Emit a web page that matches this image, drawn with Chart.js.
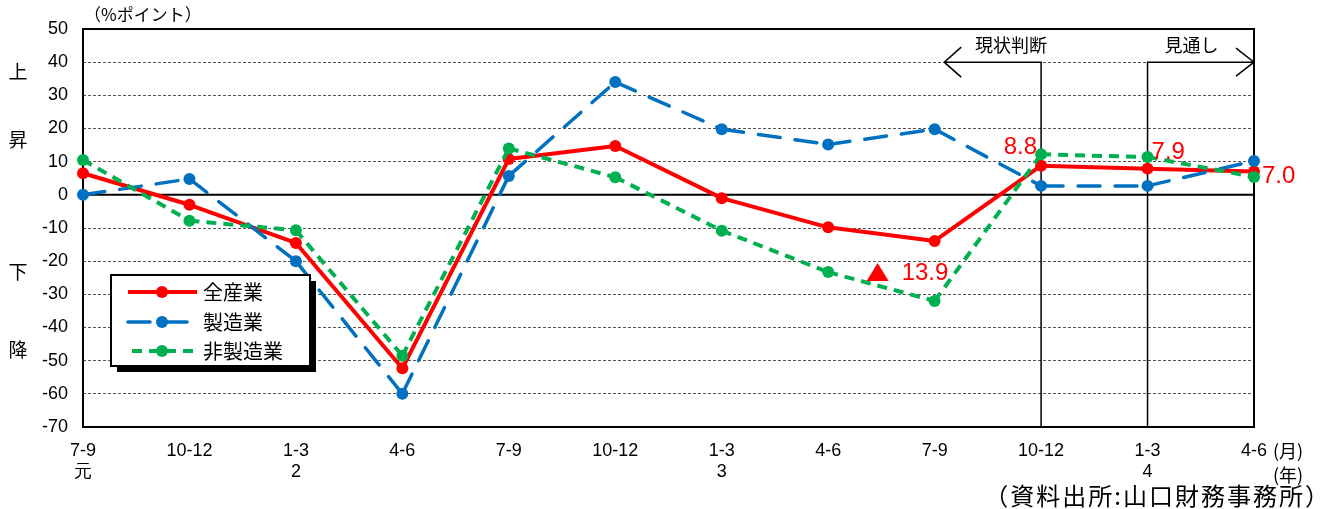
<!DOCTYPE html>
<html><head><meta charset="utf-8">
<script src="https://cdn.jsdelivr.net/npm/chart.js@4"></script>
<style>html,body{margin:0;padding:0;background:#fff}#wrap{width:1331px;height:509px}</style>
</head><body><div id="wrap"><canvas id="c" width="1331" height="509"></canvas></div>
<script>
// Quarter labels (months) and the era year shown under the first quarter of each year
const months = ['7-9','10-12','1-3','4-6','7-9','10-12','1-3','4-6','7-9','10-12','1-3','4-6'];
const years  = ['元','','2','','','','3','','','','4',''];

// BSI values (% points)
const allIndustry      = [6.5, -3.0, -14.5, -52.3, 10.8, 14.7, -1.0, -9.8, -13.9, 8.8, 7.9, 7.0];
const manufacturing    = [0.0, 4.8, -20.0, -60.0, 5.7, 34.0, 19.8, 15.2, 19.8, 2.7, 2.7, 10.2];
const nonManufacturing = [10.5, -7.8, -10.7, -48.5, 14.0, 5.3, -10.8, -23.3, -32.0, 12.2, 11.4, 5.4];

const seriesNames = ['全産業','製造業','非製造業'];
const yMin = -70, yMax = 50, yStep = 10;

// indices of the 全産業 points that carry a value label
const labelledPoints = [8, 9, 10, 11];
// boundary between 現状判断 and 見通し
const currentIdx = 9, outlookIdx = 10;

const NUM_FONT = "'Liberation Sans', Arial, sans-serif";
const JP_FONT = "'Noto Sans CJK JP', sans-serif";

const colors = ['#FF0000', '#0070C0', '#00B050'];
const dashes = [[], [22, 15], [10, 7]];
const widths = [4, 3.5, 4];
const caps = ['butt', 'round', 'butt'];

function makeSet(i, data, order) {
  return {
    label: seriesNames[i],
    data: data,
    borderColor: colors[i],
    backgroundColor: colors[i],
    borderWidth: widths[i],
    borderDash: dashes[i],
    borderCapStyle: caps[i],
    pointRadius: 6,
    pointHoverRadius: 6,
    pointBackgroundColor: colors[i],
    pointBorderColor: colors[i],
    pointBorderWidth: 0,
    tension: 0,
    fill: false,
    order: order,
    // stroke each segment on its own so the dash pattern restarts at every marker
    segment: { borderDashOffset: ctx => ctx.p0DataIndex * 1e-3 }
  };
}

// frame, zero line and the 現状判断 / 見通し markers
const framePlugin = {
  id: 'frame',
  beforeDatasetsDraw(chart) {
    const { ctx, chartArea: a, scales: { x, y } } = chart;
    ctx.save();
    ctx.strokeStyle = '#000';
    ctx.lineWidth = 2;
    ctx.setLineDash([]);
    ctx.strokeRect(a.left, a.top, a.right - a.left, a.bottom - a.top);
    const y0 = y.getPixelForValue(0);
    ctx.beginPath(); ctx.moveTo(a.left, y0); ctx.lineTo(a.right, y0); ctx.stroke();

    const yA = y.getPixelForValue(40);
    const xCur = x.getPixelForValue(currentIdx);
    const xOut = x.getPixelForValue(outlookIdx);
    const step = x.getPixelForValue(1) - x.getPixelForValue(0);
    const xTipL = xCur - 0.91 * step;
    ctx.lineWidth = 1.5;
    ctx.beginPath();
    ctx.moveTo(xCur, a.bottom); ctx.lineTo(xCur, yA); ctx.lineTo(xTipL, yA);
    ctx.moveTo(xOut, a.bottom); ctx.lineTo(xOut, yA); ctx.lineTo(a.right, yA);
    // open arrow heads
    ctx.moveTo(xTipL + 17, yA - 15); ctx.lineTo(xTipL, yA); ctx.lineTo(xTipL + 17, yA + 15);
    ctx.moveTo(a.right - 18, yA - 14); ctx.lineTo(a.right, yA); ctx.lineTo(a.right - 18, yA + 14);
    ctx.stroke();

    ctx.fillStyle = '#000';
    ctx.font = '18px ' + JP_FONT;
    ctx.textAlign = 'center'; ctx.textBaseline = 'middle';
    ctx.fillText('現状判断', xCur - 30, a.top + 16);
    ctx.fillText('見通し', xOut + 44, a.top + 16);
    ctx.restore();
  },
  afterDraw(chart) {
    const { ctx, chartArea: a, scales: { x, y } } = chart;
    ctx.save();
    ctx.fillStyle = '#000';
    ctx.textBaseline = 'middle';
    // unit and direction captions
    ctx.font = '17px ' + JP_FONT;
    ctx.textAlign = 'left';
    ctx.fillText('（%ポイント）', 84, 15);
    ctx.font = '19px ' + JP_FONT;
    ctx.textAlign = 'center';
    ctx.fillText('上', 18, 72);
    ctx.fillText('昇', 18, 140);
    ctx.fillText('下', 18, 272);
    ctx.fillText('降', 18, 350);
    ctx.font = '18px ' + JP_FONT;
    ctx.textAlign = 'left';
    ctx.fillText('(月)', 1273, 451);
    ctx.fillText('(年)', 1273, 475);
    ctx.textAlign = 'right';
    ctx.font = '24px ' + JP_FONT;
    ctx.letterSpacing = '2px';
    ctx.fillText('（資料出所:山口財務事務所）', 1331, 496);
    ctx.letterSpacing = '0px';

    // value labels on 全産業 (▲ marks a negative value)
    ctx.fillStyle = colors[0];
    ctx.font = '24px ' + NUM_FONT;
    labelledPoints.forEach(i => {
      const v = allIndustry[i];
      const px = x.getPixelForValue(i), py = y.getPixelForValue(v);
      const txt = Math.abs(v).toFixed(1);
      if (v < 0) {
        const tx = px - 57, ty = py + 31;
        ctx.beginPath();
        ctx.moveTo(tx - 11, ty + 9); ctx.lineTo(tx, ty - 9); ctx.lineTo(tx + 11, ty + 9);
        ctx.closePath(); ctx.fill();
        ctx.textAlign = 'left';
        ctx.fillText(txt, tx + 24, ty + 1);
      } else if (i === currentIdx) {
        ctx.textAlign = 'right';
        ctx.fillText(txt, px - 4, py - 18);
      } else if (i === outlookIdx) {
        ctx.textAlign = 'left';
        ctx.fillText(txt, px + 4, py - 16);
      } else {
        ctx.textAlign = 'left';
        ctx.fillText(txt, px + 8, py + 5);
      }
    });

    // legend box with drop shadow
    const bx = 111, by = 275, bw = 199, bh = 91;
    ctx.fillStyle = '#000';
    ctx.fillRect(bx + 6, by + 6, bw, bh);
    ctx.fillStyle = '#fff';
    ctx.fillRect(bx, by, bw, bh);
    ctx.strokeStyle = '#000'; ctx.lineWidth = 2;
    ctx.strokeRect(bx, by, bw, bh);
    const rows = [292, 322, 351];
    chart.data.datasets.forEach((ds, i) => {
      const ry = rows[i];
      ctx.strokeStyle = ds.borderColor;
      ctx.lineWidth = ds.borderWidth;
      ctx.lineCap = ds.borderCapStyle;
      ctx.setLineDash(ds.borderDash);
      ctx.lineDashOffset = i === 2 ? -4 : 0;
      ctx.beginPath(); ctx.moveTo(128, ry); ctx.lineTo(197, ry); ctx.stroke();
      ctx.setLineDash([]);
      ctx.fillStyle = ds.borderColor;
      ctx.beginPath(); ctx.arc(162, ry, 6, 0, Math.PI * 2); ctx.fill();
      ctx.fillStyle = '#000';
      ctx.font = '20px ' + JP_FONT;
      ctx.textAlign = 'left';
      ctx.fillText(ds.label, 203, ry);
    });
    ctx.restore();
  }
};

new Chart(document.getElementById('c'), {
  type: 'line',
  data: {
    labels: months.map((m, i) => years[i] ? [m, years[i]] : m),
    datasets: [
      makeSet(0, allIndustry, 2),
      makeSet(1, manufacturing, 1),
      makeSet(2, nonManufacturing, 0)
    ]
  },
  options: {
    responsive: false,
    devicePixelRatio: 1,
    animation: false,
    layout: { padding: { top: 29, right: 77, left: 0, bottom: 0 } },
    plugins: { legend: { display: false }, tooltip: { enabled: false } },
    scales: {
      x: {
        offset: false,
        grid: { display: false, drawTicks: false },
        border: { display: false },
        ticks: {
          color: '#000', font: { family: NUM_FONT, size: 18, lineHeight: 1.2 }, padding: 13,
          maxRotation: 0, autoSkip: false
        },
        afterFit: s => { s.height = 82; }
      },
      y: {
        min: yMin, max: yMax,
        grid: {
          drawTicks: false,
          lineWidth: 1,
          color: c => (c.tick.value === 0 || c.tick.value === yMax || c.tick.value === yMin) ? 'rgba(0,0,0,0)' : '#555'
        },
        border: { display: false, dash: [3, 2] },
        ticks: {
          stepSize: yStep, color: '#000', padding: 15,
          font: { family: NUM_FONT, size: 18 }
        },
        afterFit: s => { s.width = 83; }
      }
    }
  },
  plugins: [framePlugin]
});
</script>
</body></html>
